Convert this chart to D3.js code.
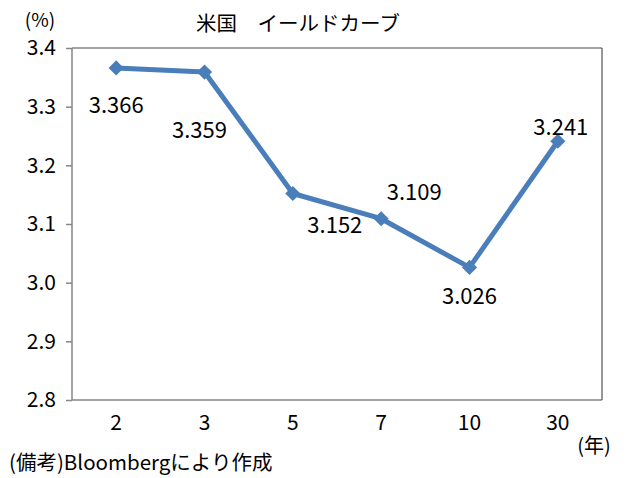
<!DOCTYPE html>
<html>
<head>
<meta charset="utf-8">
<script src="https://cdn.jsdelivr.net/npm/d3@7"></script>
<style>
  body { margin: 0; background: #fff; }
  text { font-family: "Noto Sans CJK JP", sans-serif; fill: #000; }
</style>
</head>
<body>
<div id="chart"></div>
<script>
var maturities = ['2', '3', '5', '7', '10', '30'];
var yields = [3.366, 3.359, 3.152, 3.109, 3.026, 3.241];
var yTicks = [2.8, 2.9, 3.0, 3.1, 3.2, 3.3, 3.4];

// where each value label sits relative to its point (baseline)
var labelOffsets = [[0, 45], [-5, 66], [42, 40], [33, -19], [0, 37], [3, -6]];

var width = 628, height = 478;
var plotLeft = 72, plotTop = 48, plotRight = 602, plotBottom = 400;

var svg = d3.select("#chart")
  .append("svg")
  .attr("width", width)
  .attr("height", height);

var x = d3.scaleBand()
  .domain(maturities)
  .range([plotLeft, plotRight]);

var y = d3.scaleLinear()
  .domain([2.8, 3.4])
  .range([plotBottom, plotTop]);

// plot frame
svg.append("path")
  .attr("d", "M " + plotLeft + " " + plotTop + " L " + plotRight + " " + plotTop)
  .attr("stroke", "#868686").attr("stroke-width", 1.5);
svg.append("path")
  .attr("d", "M " + plotLeft + " " + plotTop + " L " + plotLeft + " " + plotBottom + " L " + plotRight + " " + plotBottom)
  .attr("stroke", "#868686").attr("stroke-width", 1.5).attr("fill", "none");
svg.append("path")
  .attr("d", "M " + plotRight + " " + plotTop + " L " + plotRight + " " + plotBottom)
  .attr("stroke", "#333").attr("stroke-width", 1);

// y axis
var yAxis = svg.append("g")
  .attr("transform", "translate(" + plotLeft + ",0)")
  .call(d3.axisLeft(y).tickValues(yTicks).tickSize(6).tickPadding(10)
    .tickFormat(d3.format(".1f")));
yAxis.select(".domain").remove();
yAxis.selectAll("line").attr("stroke", "#868686").attr("stroke-width", 1.5);
yAxis.selectAll("text")
  .attr("font-size", 21)
  .attr("font-family", "'Noto Sans CJK JP', sans-serif")
  .attr("fill", "#000");

// x axis
var xAxis = svg.append("g")
  .attr("transform", "translate(0," + plotBottom + ")")
  .call(d3.axisBottom(x).tickSize(0).tickPadding(15));
xAxis.select(".domain").remove();
xAxis.selectAll("text")
  .attr("font-size", 21)
  .attr("font-family", "'Noto Sans CJK JP', sans-serif")
  .attr("fill", "#000");

var cx = function (d, i) { return x(maturities[i]) + x.bandwidth() / 2; };

var line = d3.line()
  .x(function (d, i) { return cx(d, i); })
  .y(function (d) { return y(d); });

svg.append("path")
  .datum(yields)
  .attr("d", line)
  .attr("fill", "none")
  .attr("stroke", "#4a7ebb")
  .attr("stroke-width", 5)
  .attr("stroke-linejoin", "round");

svg.selectAll(".marker")
  .data(yields)
  .enter()
  .append("path")
  .attr("class", "marker")
  .attr("d", d3.symbol().type(d3.symbolSquare).size(115))
  .attr("transform", function (d, i) {
    return "translate(" + cx(d, i) + "," + y(d) + ") rotate(45)";
  })
  .attr("fill", "#4a7ebb");

svg.selectAll(".val")
  .data(yields)
  .enter()
  .append("text")
  .attr("class", "val")
  .attr("x", function (d, i) { return cx(d, i) + labelOffsets[i][0]; })
  .attr("y", function (d, i) { return y(d) + labelOffsets[i][1]; })
  .attr("text-anchor", "middle")
  .attr("font-size", 22)
  .text(function (d) { return d3.format(".3f")(d); });

svg.append("text").attr("x", 40).attr("y", 27).attr("text-anchor", "middle")
  .attr("font-size", 19).text("(%)");
svg.append("text").attr("x", 298).attr("y", 31).attr("text-anchor", "middle")
  .attr("font-size", 20.5).text("米国　イールドカーブ");
svg.append("text").attr("x", 594).attr("y", 453).attr("text-anchor", "middle")
  .attr("font-size", 20).text("(年)");
svg.append("text").attr("x", 9).attr("y", 470)
  .attr("font-size", 20.5).text("(備考)Bloombergにより作成");
</script>
</body>
</html>
